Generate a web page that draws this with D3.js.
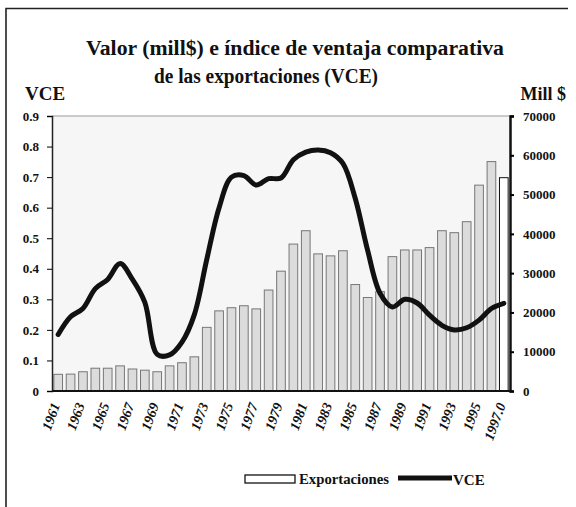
<!DOCTYPE html>
<html>
<head>
<meta charset="utf-8">
<script src="https://cdn.jsdelivr.net/npm/d3@7"></script>
<style>
  body { margin: 0; background: #fff; }
  svg text { font-family: "Liberation Serif", "Times New Roman", serif; font-weight: bold; fill: #111; }
</style>
</head>
<body>
<svg width="576" height="507"></svg>
<script>
// ---- data ----
var years = d3.range(1961, 1998);
var exportaciones = [4250, 4300, 4900, 5800, 5800, 6400, 5600, 5300, 4900, 6400,
    7200, 8700, 16200, 20400, 21200, 21700, 20900, 25700, 30500, 37400,
    40800, 34900, 34400, 35700, 27100, 23800, 25300, 34200, 35900, 35900,
    36500, 40800, 40300, 43100, 52400, 58400, 54300];
var vce = [0.185, 0.243, 0.27, 0.335, 0.365, 0.417, 0.365, 0.29, 0.12, 0.118,
    0.16, 0.25, 0.43, 0.6, 0.70, 0.705, 0.674, 0.695, 0.697, 0.757,
    0.782, 0.789, 0.78, 0.745, 0.63, 0.46, 0.32, 0.275, 0.30, 0.288,
    0.248, 0.215, 0.20, 0.207, 0.232, 0.27, 0.287];
var vceTicks = [0, 0.1, 0.2, 0.3, 0.4, 0.5, 0.6, 0.7, 0.8, 0.9];
var millTicks = [0, 10000, 20000, 30000, 40000, 50000, 60000, 70000];
var xLabels = ['1961', '1963', '1965', '1967', '1969', '1971', '1973', '1975', '1977', '1979',
    '1981', '1983', '1985', '1987', '1989', '1991', '1993', '1995', '1997.0'];

var svg = d3.select('svg');
var plot = {l: 52, r: 510, t: 116, b: 391};

// outer frame (top + left only, as in the scan)
svg.append('path')
    .attr('d', 'M6,515 L6,8.5 L568,8.5')
    .attr('fill', 'none')
    .attr('stroke', '#222')
    .attr('stroke-width', 1.6);

// title (stretched a bit, the scanned font is wider)
svg.append('text').attr('x', 86).attr('y', 55)
    .attr('textLength', 418).attr('lengthAdjust', 'spacingAndGlyphs')
    .style('font-size', '20px').text('Valor (mill$) e índice de ventaja comparativa');
svg.append('text').attr('x', 154).attr('y', 83)
    .attr('textLength', 224).attr('lengthAdjust', 'spacingAndGlyphs')
    .style('font-size', '20px').text('de las exportaciones (VCE)');
svg.append('text').attr('x', 25).attr('y', 100)
    .style('font-size', '19px').text('VCE');
svg.append('text').attr('x', 566).attr('y', 100).attr('text-anchor', 'end')
    .style('font-size', '18px').text('Mill $');

// scales
var x = d3.scaleBand()
    .domain(years)
    .range([plot.l, plot.r])
    .paddingInner(0.3)
    .paddingOuter(0.15);
var yL = d3.scaleLinear().domain([0, 0.9]).range([plot.b, plot.t]);
var yR = d3.scaleLinear().domain([0, 70000]).range([plot.b, plot.t]);

// plot background
svg.append('rect')
    .attr('x', plot.l).attr('y', plot.t)
    .attr('width', plot.r - plot.l).attr('height', plot.b - plot.t)
    .attr('fill', '#f6f6f6');
svg.append('line')
    .attr('x1', plot.l).attr('x2', plot.r)
    .attr('y1', plot.t).attr('y2', plot.t)
    .attr('stroke', '#999').attr('stroke-width', 1.2);

// bars
svg.selectAll('.bar')
    .data(years)
    .enter()
    .append('rect')
    .attr('class', 'bar')
    .attr('x', d => x(d))
    .attr('width', x.bandwidth())
    .attr('y', (d, i) => yR(exportaciones[i]))
    .attr('height', (d, i) => plot.b - yR(exportaciones[i]))
    .attr('fill', (d, i) => i === years.length - 1 ? '#fff' : '#dcdcdc')
    .attr('stroke', (d, i) => i === years.length - 1 ? '#111' : '#777')
    .attr('stroke-width', 1);

// line
var line = d3.line()
    .x((d, i) => x(years[i]) + x.bandwidth() / 2)
    .y(d => yL(d))
    .curve(d3.curveCatmullRom.alpha(0.5));
svg.append('path')
    .attr('d', line(vce))
    .attr('fill', 'none')
    .attr('stroke', '#111')
    .attr('stroke-width', 5)
    .attr('stroke-linejoin', 'round')
    .attr('stroke-linecap', 'round');

// left axis
var leftAxis = svg.append('g')
    .attr('class', 'y axis')
    .attr('transform', 'translate(' + plot.l + ',0)')
    .call(d3.axisLeft(yL).tickValues(vceTicks).tickSize(5).tickPadding(8)
        .tickFormat(d => d === 0 ? '0' : d3.format('.1f')(d)));
leftAxis.select('.domain').attr('stroke', '#222').attr('stroke-width', 1.5);
leftAxis.selectAll('text').style('font-size', '13px');

// right axis
var rightAxis = svg.append('g')
    .attr('class', 'y axis')
    .attr('transform', 'translate(' + plot.r + ',0)')
    .call(d3.axisRight(yR).tickValues(millTicks).tickSize(4).tickPadding(9)
        .tickFormat(d3.format('d')));
rightAxis.select('.domain').attr('stroke', '#111').attr('stroke-width', 2.5);
rightAxis.selectAll('line').attr('stroke-width', 2);
rightAxis.selectAll('text').style('font-size', '13px');

// bottom axis line
svg.append('line')
    .attr('x1', plot.l).attr('x2', plot.r + 1)
    .attr('y1', plot.b).attr('y2', plot.b)
    .attr('stroke', '#111').attr('stroke-width', 2);

// x labels, every other year
svg.selectAll('.xlabel')
    .data(xLabels)
    .enter()
    .append('text')
    .attr('class', 'xlabel')
    .attr('text-anchor', 'end')
    .style('font-size', '14px')
    .style('font-style', 'italic')
    .attr('transform', function(d) {
        var yr = Math.round(+d);
        var tx = x(yr) + x.bandwidth() / 2 + 2;
        return 'translate(' + [tx, 405] + ') rotate(-70)';
    })
    .text(d => d);

// legend
svg.append('rect')
    .attr('x', 245).attr('y', 475).attr('width', 50).attr('height', 8)
    .attr('fill', '#fff').attr('stroke', '#111').attr('stroke-width', 1.3);
svg.append('text').attr('x', 299).attr('y', 484)
    .attr('textLength', 90).attr('lengthAdjust', 'spacingAndGlyphs')
    .style('font-size', '14px').text('Exportaciones');
svg.append('line')
    .attr('x1', 398).attr('x2', 452).attr('y1', 478).attr('y2', 478)
    .attr('stroke', '#111').attr('stroke-width', 5);
svg.append('text').attr('x', 453).attr('y', 485)
    .style('font-size', '15px').text('VCE');
</script>
</body>
</html>
